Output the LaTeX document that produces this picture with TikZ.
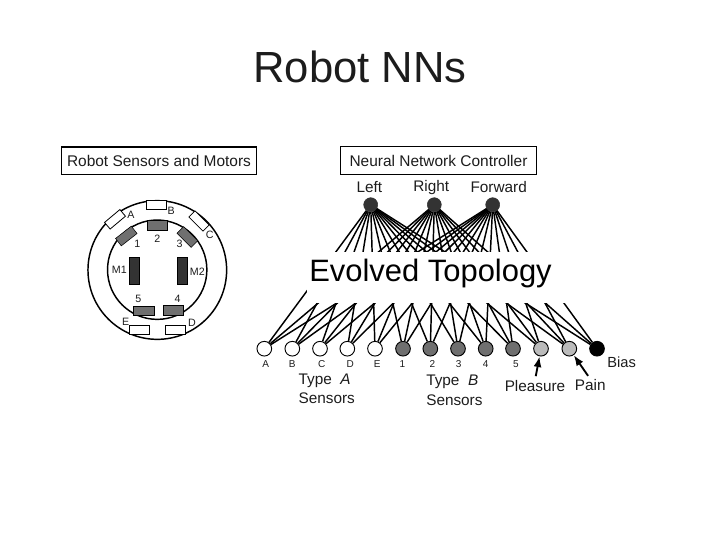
\documentclass[tikz,border=0pt]{standalone}
\usepackage{fontspec}
\setmainfont{Liberation Sans}
\setsansfont{Liberation Sans}
\usepackage{xcolor}
\usepackage{tikz}
\usetikzlibrary{arrows.meta}
\definecolor{neurondark}{HTML}{333333}
\definecolor{sensorgrey}{HTML}{6F6F6F}
\definecolor{painlight}{HTML}{BBBBBB}
\definecolor{motordark}{HTML}{333333}
\definecolor{inktext}{HTML}{1C1C1C}

\begin{document}
\begin{tikzpicture}[
  x=0.75pt,y=-0.75pt,
  font=\sffamily,text=inktext,
  titlebox/.style={draw=black,line width=0.9pt,minimum width=146.5pt,minimum height=20.5pt,font=\sffamily\fontsize{11.6}{13}\selectfont},
  outneuron/.style={circle,draw=neurondark,fill=neurondark,inner sep=0pt,minimum size=10.5pt},
  inneuron/.style={circle,draw=black,line width=0.7pt,fill=#1,inner sep=0pt,minimum size=11pt},
  link/.style={black,line width=1.1pt},
  lab/.style={font=\sffamily\fontsize{11.5}{13}\selectfont,inner sep=0pt},
  small/.style={font=\sffamily\fontsize{7.5}{8}\selectfont,inner sep=0pt},
  robotlab/.style={font=\sffamily\fontsize{8}{9}\selectfont,inner sep=0pt},
  whitesensor/.style={draw=black,line width=0.6pt,fill=white,minimum width=15pt,minimum height=6.5pt,inner sep=0pt},
  greysensor/.style={draw=black,line width=0.4pt,fill=sensorgrey,minimum width=15pt,minimum height=7pt,inner sep=0pt},
  motor/.style={draw=black,line width=0.4pt,fill=motordark,minimum width=7.8pt,minimum height=20.5pt,inner sep=0pt},
  pointer/.style={-{Latex[length=8pt,width=6pt]},line width=1.4pt,shorten <=3pt}
]
\useasboundingbox (0,0) rectangle (720,540);
\node[font=\sffamily\fontsize{32.7}{36}\selectfont] (title) at (360,67) {Robot NNs};

% left panel
\node[titlebox] (robotbox) at (159,160.7) {Robot Sensors and Motors};
\node[circle,draw=black,line width=1.1pt,minimum size=104pt,inner sep=0pt] (outer) at (157.3,270) {};
\node[circle,draw=black,line width=1.1pt,minimum size=74.5pt,inner sep=0pt] (inner) at (157.2,269.7) {};
\node[whitesensor,rotate=40] (sA) at (115,219.3) {};
\node[whitesensor] (sB) at (156.7,205) {};
\node[whitesensor,rotate=-45] (sC) at (199,221) {};
\node[whitesensor] (sD) at (175.7,329.7) {};
\node[whitesensor] (sE) at (139.3,329.7) {};
\node[greysensor,rotate=38] (g1) at (126.3,236) {};
\node[greysensor] (g2) at (157.3,225.3) {};
\node[greysensor,rotate=-45] (g3) at (187.3,237) {};
\node[greysensor,minimum width=15pt] (g4) at (173.3,310.3) {};
\node[greysensor,minimum width=16pt] (g5) at (143.7,310.7) {};
\node[motor] (m1) at (134.3,271) {};
\node[motor] (m2) at (182.3,271) {};
\node[robotlab] (lA) at (131,215) {A};
\node[robotlab] (lB) at (171.3,210.7) {B};
\node[robotlab] (lC) at (209.7,235.3) {C};
\node[robotlab] (lD) at (192,323) {D};
\node[robotlab] (lE) at (125.7,321.7) {E};
\node[robotlab] (l1) at (137.3,243.7) {1};
\node[robotlab] (l2) at (157.3,239) {2};
\node[robotlab] (l3) at (179.7,244.3) {3};
\node[robotlab] (l4) at (177.7,298.7) {4};
\node[robotlab] (l5) at (138.3,298.7) {5};
\node[robotlab] (lM1) at (119.3,270) {M1};
\node[robotlab] (lM2) at (197.3,271.7) {M2};

% right panel
\node[titlebox] (netbox) at (438.5,160.5) {Neural Network Controller};
\node[lab] at (369.3,187.3) {Left};
\node[lab] at (431.3,188) {Right};
\node[lab] at (498.7,186.7) {Forward};
\node[outneuron] (outL) at (370.7,204.7) {};
\node[outneuron] (outR) at (434.3,204.7) {};
\node[outneuron] (outF) at (492.7,204.7) {};

\foreach \name/\xpos/\shade in {A/264.3/white,B/292.3/white,C/320/white,D/347.3/white,E/375/white,
  1/403/sensorgrey,2/430.3/sensorgrey,3/458/sensorgrey,4/485.7/sensorgrey,5/513/sensorgrey,
  P/541/painlight,Q/569.3/painlight,Z/597/black}
  \node[inneuron=\shade] (in\name) at (\xpos,348.7) {};

\foreach \name in {A,B,C,D,E,1,2,3,4,5,P,Q,Z}
  \foreach \top in {outL,outR,outF}
    \draw[link] (\top) -- (in\name);

% hides the middle of the net
\node[fill=white,minimum width=208pt,minimum height=38.5pt,inner sep=0pt] (evolved) at (446,277.5) {};
\node[text=black,font=\sffamily\fontsize{23.2}{26}\selectfont] (evolvedtext) at (430.5,273) {Evolved Topology};

\foreach \name/\xpos/\tag in {A/265.7/A,B/292.3/B,C/321.7/C,D/350.3/D,E/377.3/E,1/402.3/1,2/432.3/2,3/458.7/3,4/485.7/4,5/516/5}
  \node[small] (lab\name) at (\xpos,363.7) {\tag};

\node[lab,font=\sffamily\fontsize{11}{13}\selectfont] (labZ) at (621.7,362.3) {Bias};
\node[lab,anchor=west] (typeA) at (298.3,380.5) {Type\ \ \textit{A}};
\node[lab,anchor=west] (sensA) at (298.3,398.3) {Sensors};
\node[lab,anchor=west] (typeB) at (426,381.5) {Type\ \ \textit{B}};
\node[lab,anchor=west] (sensB) at (426,400) {Sensors};
\node[lab] (labP) at (535,386) {Pleasure};
\node[lab] (labQ) at (590.3,385) {Pain};
\draw[pointer] (labP.north) -- (inP);
\draw[pointer] (labQ.north) -- (inQ);
\end{tikzpicture}
\end{document}
